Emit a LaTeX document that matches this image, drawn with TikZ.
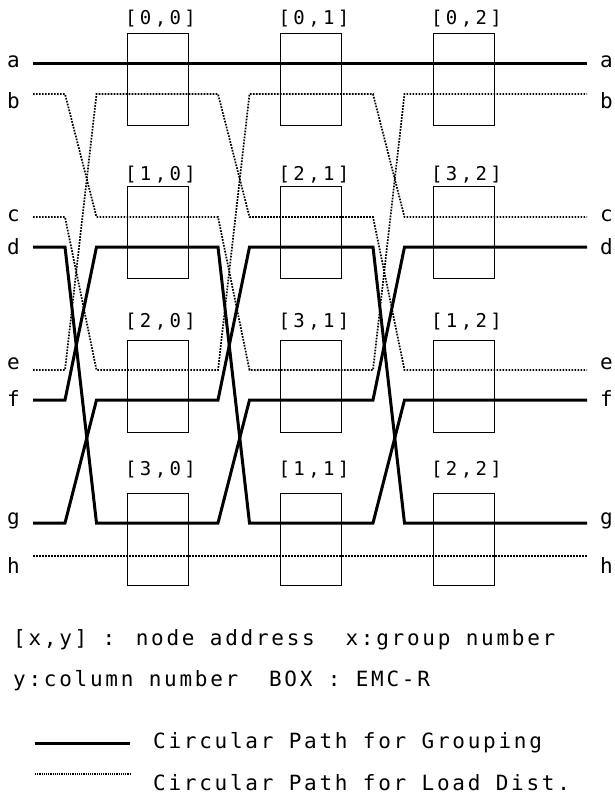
\documentclass[tikz,border=0pt]{standalone}
\usepackage{fontspec}
\newfontfamily\plotfont[LetterSpace=13]{DejaVu Sans Mono}
\newfontfamily\addrfont[LetterSpace=18]{DejaVu Sans Mono}
\usetikzlibrary{positioning}

\begin{document}
\begin{tikzpicture}[
  x=1pt, y=-1pt,
  every node/.style={inner sep=0pt, font=\plotfont\fontsize{21}{21}\selectfont},
  grouping/.style={line width=3pt, line join=miter},
  loaddist/.style={line width=1.7pt, dash pattern=on 1.7pt off 1.3pt},
  emcbox/.style={draw, line width=1pt, minimum width=61pt, minimum height=92pt},
  addr/.style={font=\addrfont\fontsize{19}{19}\selectfont},
  tracklbl/.style={anchor=mid west},
]
\useasboundingbox (0,0) rectangle (614,796);
\def\tw{31.5}

% ── track ends and letters ──────────────────
\foreach \t/\yy/\ly in {a/63/65.5, b/94/106.5, c/217/219, d/247/252,
                        e/370/367.5, f/400/404, g/523/522, h/556/571.5}{
  \coordinate (L\t) at (33,\yy);
  \coordinate (R\t) at (587,\yy);
  \node[tracklbl] (lt\t) at (7,\ly) {\t};
  \node[tracklbl] (rt\t) at (600,\ly) {\t};
}

% ── crossing points ─────────────────────────
\foreach \k/\xx in {1/65, 2/218, 3/373}{
  \coordinate (T\k l) at (\xx,0);
  \coordinate (T\k r) at (\xx+\tw,0);
}

% ── EMC-R boxes with node addresses ─────────
\foreach \c/\cx/\ga/\gb/\gc/\gd in {0/157.5/0/1/2/3, 1/311/0/2/3/1, 2/463.5/0/3/1/2}{
  \foreach \r/\g/\ly in {0/\ga/19, 1/\gb/175, 2/\gc/322, 3/\gd/470}{
    \node[emcbox] (box\g\c) at (\cx, 79+153.5*\r) {};
    \node[addr] (adr\g\c) at (\cx+3, \ly) {[\g,\c]};
  }
}

% ── straight paths ──────────────────────────
\draw[grouping] (La) -- (Ra);
\draw[loaddist] (Lh) -- (Rh);

% ── circular paths (d->g->f->d, b->c->e->b) ─
\foreach \p/\q/\s/\u in {d/g/f/d, g/f/d/g, f/d/g/f}
  \draw[grouping] (L\p) -- (L\p -| T1l) -- (L\q -| T1r) -- (L\q -| T2l)
    -- (L\s -| T2r) -- (L\s -| T3l) -- (L\u -| T3r) -- (R\u);
\foreach \p/\q/\s/\u in {b/c/e/b, c/e/b/c, e/b/c/e}
  \draw[loaddist] (L\p) -- (L\p -| T1l) -- (L\q -| T1r) -- (L\q -| T2l)
    -- (L\s -| T2r) -- (L\s -| T3l) -- (L\u -| T3r) -- (R\u);

% ── key ─────────────────────────────────────
\node[anchor=base west] (key1) at (13,645) {[x,y] : node address~~x:group number};
\node[anchor=base west] (key2) at (13,686) {y:column number~~BOX : EMC-R};
\node[anchor=base west] (lgg) at (153,748) {Circular Path for Grouping};
\node[anchor=base west] (lgl) at (153,790) {Circular Path for Load Dist.};
\coordinate (gs) at (35,743);
\coordinate (ge) at (130,743);
\coordinate (ls) at (35,774);
\coordinate (le) at (130,774);
\draw[grouping] (gs) -- (ge);
\draw[loaddist, line width=1.3pt, dash pattern=on 1.1pt off 1.1pt] (ls) -- (le);

\end{tikzpicture}
\end{document}
